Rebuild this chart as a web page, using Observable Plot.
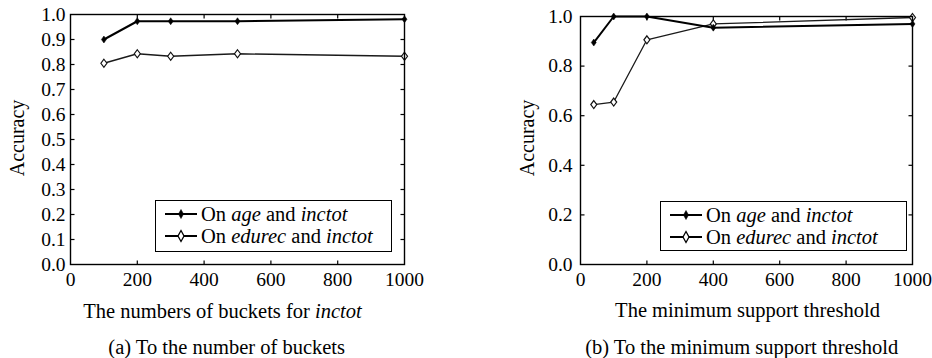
<!DOCTYPE html>
<html>
<head>
<meta charset="utf-8">
<script src="https://cdn.jsdelivr.net/npm/d3@7"></script>
<script src="https://cdn.jsdelivr.net/npm/@observablehq/plot@0.6"></script>
<style>
  html, body { margin: 0; padding: 0; background: #fff; }
  #root { position: relative; width: 932px; height: 358px; overflow: hidden; font-family: "Liberation Serif", "Times New Roman", serif; color: #000; }
  #root svg, #root svg text { font-family: "Liberation Serif", "Times New Roman", serif !important; }
  .abs { position: absolute; white-space: nowrap; line-height: 1; transform: translate(-50%, -50%); font-family: "Liberation Serif", serif; }
  .ylab { transform: translate(-50%, -50%) rotate(-90deg); font-size: 20px; }
  .txt { font-size: 20.5px; }
  .legend { position: absolute; border: 1.3px solid #000; background: #fff; font-size: 20.5px; line-height: 22px; box-sizing: border-box; padding: 2px 0 0 8px; font-family: "Liberation Serif", serif; }
  .legend .row { display: flex; align-items: center; height: 22px; }
  .legend svg { margin-right: 3px; }
</style>
</head>
<body>
<div id="root"></div>
<script>
// ---- data ----
const xTicks = [0, 200, 400, 600, 800, 1000];
const yTicksA = [0.0, 0.1, 0.2, 0.3, 0.4, 0.5, 0.6, 0.7, 0.8, 0.9, 1.0];
const yTicksB = [0.0, 0.2, 0.4, 0.6, 0.8, 1.0];

const bucketsX = [100, 200, 300, 500, 1000];
const bucketsAge = [0.90, 0.973, 0.973, 0.973, 0.981];
const bucketsEdurec = [0.805, 0.843, 0.833, 0.843, 0.833];

const supportX = [40, 100, 200, 400, 1000];
const supportAge = [0.895, 1.0, 1.0, 0.955, 0.97];
const supportEdurec = [0.645, 0.655, 0.906, 0.97, 0.996];

const seriesNames = ["age", "edurec"];

const FONT = '"Liberation Serif", "Times New Roman", serif';

// ---- symbols ----
const tickUp = {draw(c) { c.moveTo(0, 0); c.lineTo(0, -4); }};
const tickDown = {draw(c) { c.moveTo(0, 0); c.lineTo(0, 4); }};
const tickRight = {draw(c) { c.moveTo(0, 0); c.lineTo(4, 0); }};
const tickLeft = {draw(c) { c.moveTo(0, 0); c.lineTo(-4, 0); }};
const filledDiamond = {draw(c) { c.moveTo(0, -3.5); c.lineTo(2.5, 0); c.lineTo(0, 3.5); c.lineTo(-2.5, 0); c.closePath(); }};
const openDiamond = {draw(c) { c.moveTo(0, -4); c.lineTo(3, 0); c.lineTo(0, 4); c.lineTo(-3, 0); c.closePath(); }};

function makeChart({xs, age, edu, yTicks, width, marginLeft, marginRight, marginTop, yPad}) {
  const ageData = xs.map((x, i) => ({x, y: age[i]}));
  const eduData = xs.map((x, i) => ({x, y: edu[i]}));
  const innerX = xTicks.slice(1, -1);
  const innerY = yTicks.slice(1, -1);
  return Plot.plot({
    width, height: 295,
    marginLeft, marginRight, marginTop, marginBottom: 31,
    style: {fontFamily: FONT, fontSize: "19.5px", color: "black", background: "transparent", overflow: "visible"},
    x: {domain: [0, 1000]},
    y: {domain: [0, 1]},
    marks: [
      Plot.axisX(xTicks, {tickSize: 0, tickPadding: 8, fontSize: 19.5, label: null, tickFormat: d3.format("d"), fill: "black"}),
      Plot.axisY(yTicks, {tickSize: 0, tickPadding: yPad, fontSize: 19.5, label: null, tickFormat: d3.format(".1f"), fill: "black"}),
      Plot.dotX(innerX, {x: d => d, frameAnchor: "bottom", symbol: tickUp, stroke: "black", fill: "none", strokeWidth: 1.2}),
      Plot.dotX(innerX, {x: d => d, frameAnchor: "top", symbol: tickDown, stroke: "black", fill: "none", strokeWidth: 1.2}),
      Plot.dotY(innerY, {y: d => d, frameAnchor: "left", symbol: tickRight, stroke: "black", fill: "none", strokeWidth: 1.2}),
      Plot.dotY(innerY, {y: d => d, frameAnchor: "right", symbol: tickLeft, stroke: "black", fill: "none", strokeWidth: 1.2}),
      Plot.line(eduData, {x: "x", y: "y", stroke: "#1a1a1a", strokeWidth: 1.3}),
      Plot.line(ageData, {x: "x", y: "y", stroke: "#000", strokeWidth: 2}),
      Plot.dot(eduData, {x: "x", y: "y", symbol: openDiamond, fill: "white", stroke: "#111", strokeWidth: 1.2}),
      Plot.dot(ageData, {x: "x", y: "y", symbol: filledDiamond, fill: "black", stroke: "black", strokeWidth: 0.5}),
      Plot.frame({stroke: "black", strokeWidth: 1.4})
    ]
  });
}

const root = document.getElementById("root");

function place(el, left, top) {
  const d = document.createElement("div");
  d.style.position = "absolute"; d.style.left = left + "px"; d.style.top = top + "px";
  d.appendChild(el); root.appendChild(d);
}

place(makeChart({xs: bucketsX, age: bucketsAge, edu: bucketsEdurec, yTicks: yTicksA,
  width: 440, marginLeft: 70, marginRight: 36, marginTop: 14, yPad: 5}), 0, 0);
place(makeChart({xs: supportX, age: supportAge, edu: supportEdurec, yTicks: yTicksB,
  width: 452, marginLeft: 100, marginRight: 20, marginTop: 16, yPad: 8}), 480, 0);

function addText(html, x, y, cls) {
  const d = document.createElement("div");
  d.className = "abs " + cls;
  d.style.left = x + "px"; d.style.top = y + "px";
  d.innerHTML = html;
  root.appendChild(d);
}

addText("Accuracy", 17, 137.5, "ylab");
addText("Accuracy", 527, 137.5, "ylab");
addText("The numbers of buckets for <i>inctot</i>", 222.5, 311, "txt");
addText("(a) To the number of buckets", 226.7, 347, "txt");
addText("The minimum support threshold", 747.5, 310, "txt");
addText("(b) To the minimum support threshold", 741.7, 347, "txt");

function markerSvg(kind) {
  const line = '<line x1="1" y1="8" x2="33" y2="8" stroke="#000" stroke-width="2"/>';
  const m = kind === "age"
    ? '<path d="M17,3.5 L19.5,8 L17,12.5 L14.5,8 Z" fill="#000" stroke="#000" stroke-width="0.6"/>'
    : '<path d="M17,2.5 L20,8 L17,13.5 L14,8 Z" fill="#fff" stroke="#000" stroke-width="1.3"/>';
  return '<svg width="34" height="16" viewBox="0 0 34 16">' + line + m + '</svg>';
}

function addLegend(left, top, width, height) {
  const d = document.createElement("div");
  d.className = "legend";
  d.style.left = left + "px"; d.style.top = top + "px";
  d.style.width = width + "px"; d.style.height = height + "px";
  d.innerHTML =
    '<div class="row">' + markerSvg(seriesNames[0]) + '<span>On <i>age</i> and <i>inctot</i></span></div>' +
    '<div class="row">' + markerSvg(seriesNames[1]) + '<span>On <i>edurec</i> and <i>inctot</i></span></div>';
  root.appendChild(d);
}

addLegend(155, 200, 237, 52);
addLegend(660, 200.5, 247, 50.5);
</script>
</body>
</html>
